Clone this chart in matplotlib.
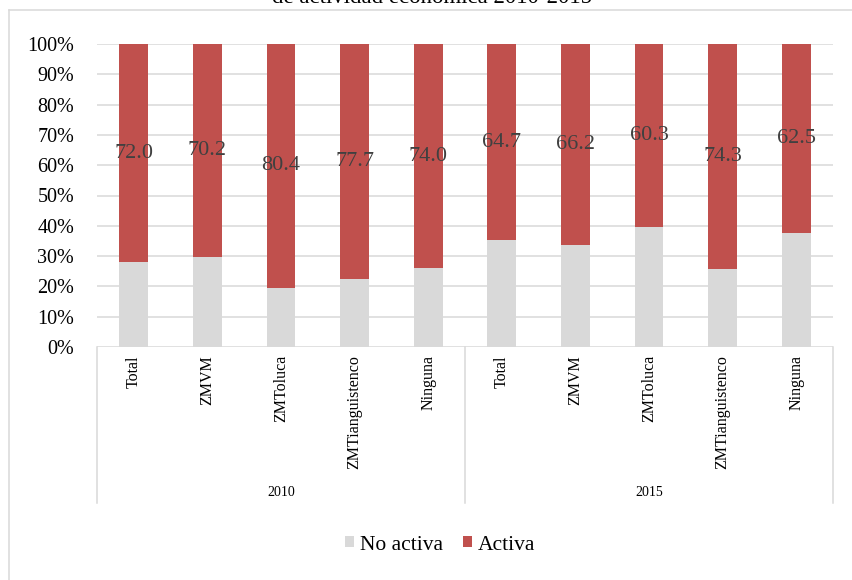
#coding:utf-8
import numpy as np
import matplotlib
matplotlib.use("Agg")
import matplotlib.pyplot as plt
import matplotlib.transforms as mtransforms
from matplotlib.patches import Patch

plt.rcParams['font.family'] = ['Liberation Serif', 'DejaVu Serif']

# datos
years = ["2010", "2015"]
zonas = ["Total", "ZMVM", "ZMToluca", "ZMTianguistenco", "Ninguna"]
activa = [72.0, 70.2, 80.4, 77.7, 74.0, 64.7, 66.2, 60.3, 74.3, 62.5]
no_activa = [100 - v for v in activa]
ytick_labels = ["0%", "10%", "20%", "30%", "40%", "50%", "60%", "70%", "80%", "90%", "100%"]

gris = "#D9D9D9"
rojo = "#C0504D"
W, H = 852, 580

fig = plt.figure(figsize=(W / 100, H / 100), dpi=100)
ax = fig.add_axes([97 / W, 1 - 347 / H, (833 - 97) / W, (347 - 44) / H])

x = np.arange(len(activa))
ax.bar(x, no_activa, width=0.39, color=gris, zorder=2)
ax.bar(x, activa, width=0.39, bottom=no_activa, color=rojo, zorder=2)

# etiquetas de valor en el centro del segmento rojo
for i in range(len(activa)):
    ax.text(x[i], no_activa[i] + activa[i] / 2, "%.1f" % activa[i], ha="center", va="center",
            fontsize=16, color="#404040", zorder=3)

ax.set_xlim(-0.5, len(activa) - 0.5)
ax.set_ylim(0, 100)
ax.set_yticks(np.arange(0, 101, 10))
ax.set_yticklabels(ytick_labels, fontsize=14.5)
ax.tick_params(axis="y", length=0, pad=16.5)
ax.set_xticks([])
ax.yaxis.grid(True, color=gris, linewidth=1.1, zorder=0)
ax.set_axisbelow(True)
for s in ax.spines.values():
    s.set_visible(False)

# eje de categorías en dos niveles
trans = mtransforms.blended_transform_factory(ax.transData, fig.transFigure)
y_top = 1 - 347 / H
y_bot = 1 - 503 / H
for xv in [-0.5, 4.5, 9.5]:
    ax.plot([xv, xv], [y_top, y_bot], transform=trans, color=gris, lw=1.1, clip_on=False)
labels = zonas * len(years)
for i, lab in enumerate(labels):
    ax.text(x[i], 1 - 355 / H, lab, transform=trans, rotation=90, ha="center", va="top",
            fontsize=11.5, color="#000000")
for j, yr in enumerate(years):
    ax.text(j * 5 + 2, 1 - 492 / H, yr, transform=trans, ha="center", va="center", fontsize=10)

# título (cortado en la parte superior)
fig.text(432 / W, 1 - 3 / H, "de actividad económica 2010-2015", ha="center", va="baseline",
         fontsize=16.5)

# borde del área del gráfico
fig.add_artist(plt.Line2D([8.5 / W, 8.5 / W], [1 - 9.5 / H, 0], color=gris, lw=1.1))
fig.add_artist(plt.Line2D([8.5 / W, 1], [1 - 9.5 / H, 1 - 9.5 / H], color=gris, lw=1.1))

handles = [Patch(facecolor=gris, label="No activa"), Patch(facecolor=rojo, label="Activa")]
fig.legend(handles=handles, loc="center", bbox_to_anchor=(440 / W, 1 - 545 / H), ncol=2,
           frameon=False, fontsize=15.5, handlelength=0.42, handleheight=0.42,
           handletextpad=0.3, columnspacing=0.9, borderpad=0)

fig.savefig("out.png", dpi=100)
